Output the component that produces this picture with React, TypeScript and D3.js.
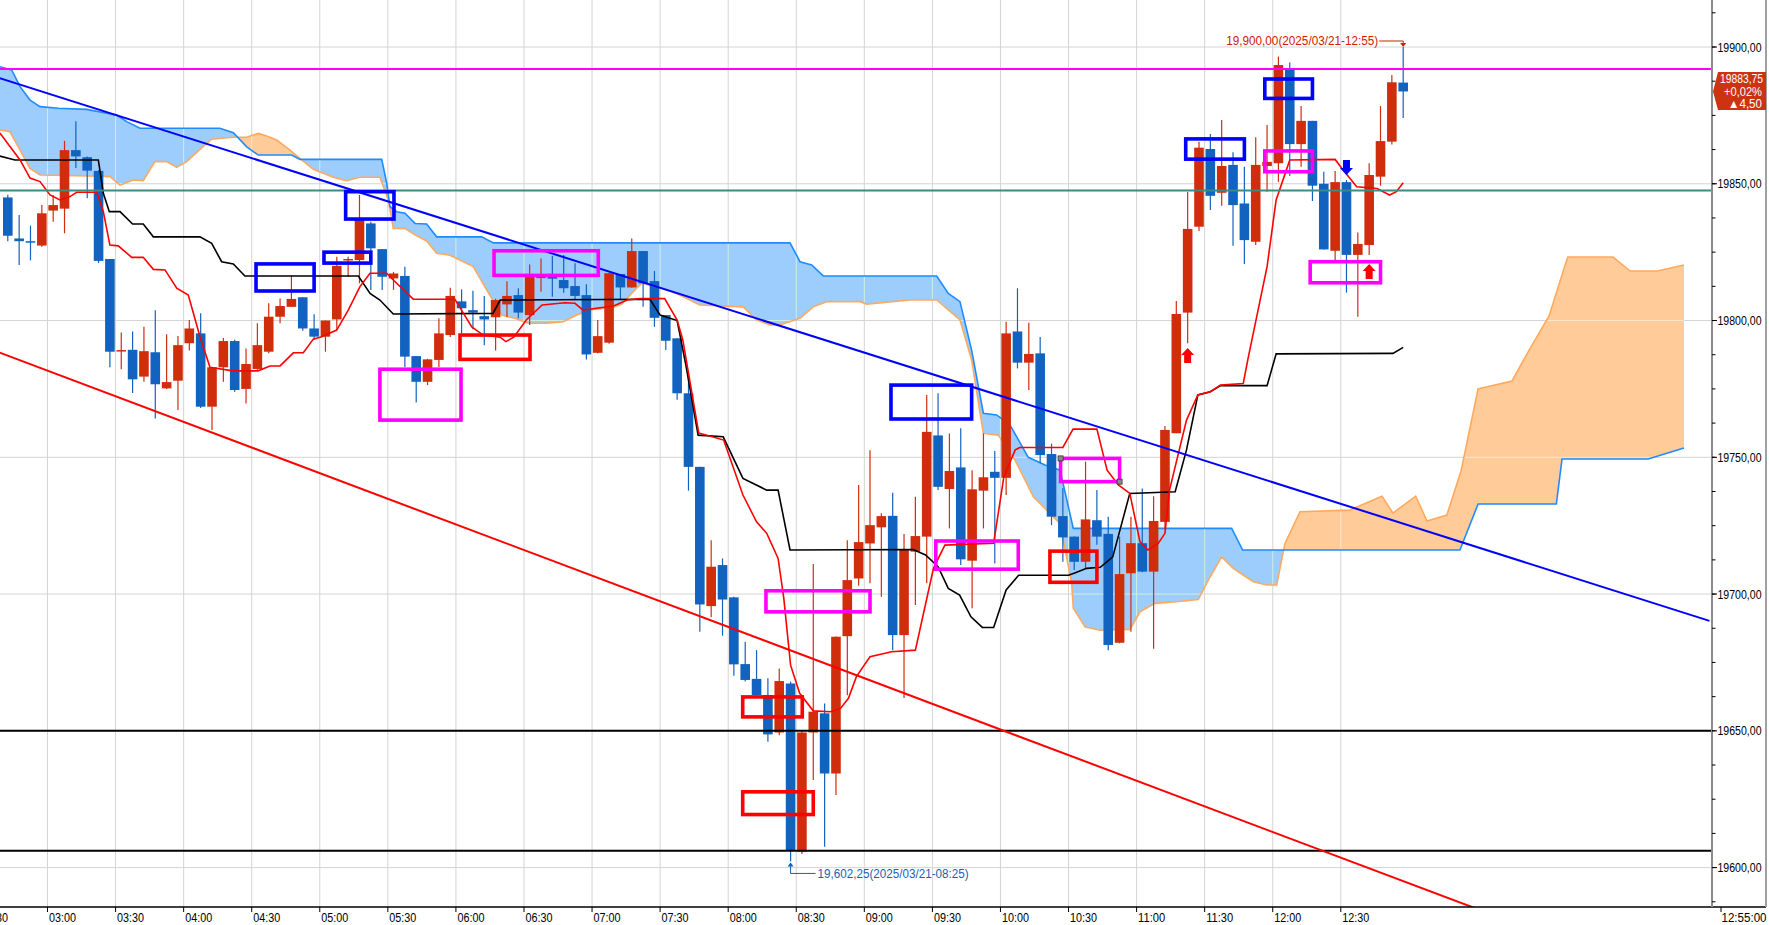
import * as d3 from "d3"

// ---- data (5-minute bars, 2025/03/21) ----
// [time, open, high, low, close]
const candles: [string, number, number, number, number][] = [
  ["02:40", 19845, 19846, 19829, 19831],
  ["02:45", 19830, 19838.6, 19820.3, 19829],
  ["02:50", 19829, 19834.7, 19822, 19828.5],
  ["02:55", 19827.4, 19842.2, 19827, 19839.2],
  ["03:00", 19840.2, 19845.9, 19836.1, 19842.2],
  ["03:05", 19840.9, 19865.7, 19831.9, 19862.3],
  ["03:10", 19862.3, 19872.9, 19855.8, 19860],
  ["03:15", 19859.7, 19860, 19844.7, 19854.8],
  ["03:20", 19854.7, 19855, 19821, 19821.8],
  ["03:25", 19822.5, 19822.5, 19782.9, 19788.6],
  ["03:30", 19788.8, 19795.6, 19782.2, 19789.2],
  ["03:35", 19789.3, 19796, 19773.5, 19778.5],
  ["03:40", 19779.5, 19797.7, 19777.6, 19788.8],
  ["03:45", 19788.4, 19803.8, 19764.2, 19776.7],
  ["03:50", 19775.2, 19795, 19775, 19777.5],
  ["03:55", 19778, 19794.3, 19767.3, 19791],
  ["04:00", 19791.7, 19800.2, 19789, 19797.1],
  ["04:05", 19795.3, 19802.7, 19768, 19768.5],
  ["04:10", 19768.5, 19783, 19760, 19782.9],
  ["04:15", 19782.9, 19793.6, 19777.6, 19792.5],
  ["04:20", 19792.5, 19793, 19774, 19774.6],
  ["04:25", 19775, 19789.8, 19769.7, 19784.1],
  ["04:30", 19782.3, 19799, 19782, 19791],
  ["04:35", 19788.6, 19806.3, 19788, 19801.4],
  ["04:40", 19801.4, 19808.1, 19799, 19805.3],
  ["04:45", 19805, 19816.6, 19805, 19807.9],
  ["04:50", 19808.5, 19808.5, 19796.3, 19797.1],
  ["04:55", 19797.1, 19802.3, 19793, 19794.1],
  ["05:00", 19794.1, 19800, 19788.6, 19800],
  ["05:05", 19800.4, 19823.3, 19796.5, 19820],
  ["05:10", 19822, 19823.3, 19816, 19822.5],
  ["05:15", 19822.1, 19845.9, 19813.6, 19837],
  ["05:20", 19835.5, 19836.1, 19811.2, 19826.4],
  ["05:25", 19826.1, 19826.1, 19811.2, 19816],
  ["05:30", 19815.4, 19817.8, 19811.2, 19817.2],
  ["05:35", 19816.3, 19819.7, 19783, 19786.8],
  ["05:40", 19787, 19787, 19770, 19777.6],
  ["05:45", 19777.6, 19786, 19776.4, 19785.8],
  ["05:50", 19785.6, 19800.8, 19783, 19795.3],
  ["05:55", 19794.7, 19812, 19794, 19809],
  ["06:00", 19807, 19811.4, 19795.3, 19804.5],
  ["06:05", 19803.8, 19810.9, 19796.8, 19802.9],
  ["06:10", 19801.6, 19809, 19791, 19800.4],
  ["06:15", 19801.2, 19808, 19789, 19807.5],
  ["06:20", 19805.9, 19814.4, 19801.2, 19809],
  ["06:25", 19809.3, 19811.8, 19800.8, 19802.9],
  ["06:30", 19802, 19820.5, 19798.4, 19816],
  ["06:35", 19815.5, 19822.7, 19810.5, 19817],
  ["06:40", 19816.3, 19823.6, 19808.7, 19815.3],
  ["06:45", 19814.8, 19824, 19810.2, 19811.8],
  ["06:50", 19812.6, 19820.9, 19807.5, 19809],
  ["06:55", 19809.3, 19813.3, 19785.8, 19787.6],
  ["07:00", 19788.2, 19800.2, 19788, 19794.3],
  ["07:05", 19791.9, 19817.5, 19791.5, 19817.3],
  ["07:10", 19817, 19817, 19807.5, 19812.1],
  ["07:15", 19812.1, 19830, 19812, 19825.4],
  ["07:20", 19825.4, 19825.4, 19805, 19813.6],
  ["07:25", 19814.4, 19818.1, 19797.7, 19801],
  ["07:30", 19802, 19802, 19789.2, 19792.6],
  ["07:35", 19793.5, 19793.5, 19771, 19773.4],
  ["07:40", 19773.4, 19780.7, 19737.8, 19746.5],
  ["07:45", 19746.5, 19746.5, 19686.2, 19696.2],
  ["07:50", 19695.6, 19719.7, 19691.5, 19710],
  ["07:55", 19710.6, 19713, 19684.8, 19698],
  ["08:00", 19698.8, 19699, 19670.1, 19674.3],
  ["08:05", 19674.4, 19682.6, 19668, 19668.6],
  ["08:10", 19669, 19679.5, 19662, 19663.1],
  ["08:15", 19663.1, 19669.2, 19646, 19648.7],
  ["08:20", 19649.4, 19672.8, 19648.4, 19668.2],
  ["08:25", 19667.3, 19668, 19602.25, 19606.4],
  ["08:30", 19605.8, 19650, 19605, 19649.4],
  ["08:35", 19649.4, 19711, 19632, 19657],
  ["08:40", 19656.4, 19660, 19607.6, 19634.4],
  ["08:45", 19634.4, 19684.5, 19626.5, 19684.4],
  ["08:50", 19684.6, 19719.7, 19663, 19705.1],
  ["08:55", 19705.7, 19739.9, 19703, 19719],
  ["09:00", 19718.5, 19752.6, 19704, 19725.2],
  ["09:05", 19724.4, 19729.5, 19699, 19728.5],
  ["09:10", 19728.6, 19737, 19679.5, 19685],
  ["09:15", 19685, 19722, 19662, 19716.3],
  ["09:20", 19715.5, 19735.6, 19696, 19721.2],
  ["09:25", 19721, 19772.8, 19704, 19759.3],
  ["09:30", 19758, 19773.4, 19738, 19739.2],
  ["09:35", 19738.4, 19758.7, 19724, 19745],
  ["09:40", 19746.3, 19760.6, 19710.6, 19712.7],
  ["09:45", 19712.2, 19745.3, 19694.8, 19738.3],
  ["09:50", 19737.8, 19758.7, 19724, 19742.7],
  ["09:55", 19744.7, 19752.3, 19711.2, 19742.5],
  ["10:00", 19742.5, 19799.6, 19736.2, 19795.3],
  ["10:05", 19796, 19811.8, 19782.5, 19784.6],
  ["10:10", 19784.6, 19799.2, 19774.6, 19787.8],
  ["10:15", 19788, 19794, 19747.8, 19750.8],
  ["10:20", 19751.2, 19755, 19725.2, 19728.3],
  ["10:25", 19728.5, 19738.7, 19711.8, 19720.7],
  ["10:30", 19721, 19721, 19708.8, 19711.8],
  ["10:35", 19711.8, 19748.4, 19709.4, 19727.3],
  ["10:40", 19727, 19738, 19718, 19721],
  ["10:45", 19722, 19728.3, 19679.5, 19681.4],
  ["10:50", 19682.2, 19721, 19682, 19707.3],
  ["10:55", 19707.6, 19728.3, 19686.2, 19718.6],
  ["11:00", 19718.6, 19738.6, 19708, 19708.2],
  ["11:05", 19708.2, 19735.8, 19680, 19726.7],
  ["11:10", 19726.4, 19761.4, 19723.4, 19760],
  ["11:15", 19758.8, 19807.1, 19758.8, 19802.4],
  ["11:20", 19802.9, 19847, 19791.7, 19833.5],
  ["11:25", 19834.3, 19865.4, 19832.7, 19863.2],
  ["11:30", 19862.7, 19868.2, 19840.4, 19845.6],
  ["11:35", 19846.7, 19873.3, 19842, 19856.5],
  ["11:40", 19856.9, 19861.5, 19827.3, 19842.2],
  ["11:45", 19842.8, 19856.2, 19820.7, 19829.4],
  ["11:50", 19828.8, 19867, 19827.6, 19856.9],
  ["11:55", 19856.5, 19871.5, 19847.1, 19858],
  ["12:00", 19857.5, 19896.5, 19850.7, 19893.4],
  ["12:05", 19891.8, 19894.3, 19852.8, 19864.5],
  ["12:10", 19864.5, 19878.4, 19856.2, 19873],
  ["12:15", 19873, 19873, 19843.7, 19849.3],
  ["12:20", 19850, 19854.4, 19826, 19826],
  ["12:25", 19825.5, 19854.7, 19821.5, 19850.6],
  ["12:30", 19850.6, 19851.4, 19810.2, 19824],
  ["12:35", 19824, 19832.2, 19801.4, 19828],
  ["12:40", 19827.6, 19857.5, 19824, 19853.2],
  ["12:45", 19852.6, 19878.4, 19849.3, 19865.6],
  ["12:50", 19865.4, 19889.8, 19864.4, 19887.1],
  ["12:55", 19887, 19900, 19874, 19883.75],
]

// Ichimoku lines: [bar index (0 = 02:40), price]
const tenkan: [number, number][] = [
  [-0.7, 19868.6], [1.08, 19858.7], [1.96, 19852.1], [2.84, 19850.8], [3.72, 19845.9],
  [4.6, 19844.1], [5.48, 19845.3], [6.07, 19846.9], [7.84, 19846.9], [8.42, 19839.8],
  [9.0, 19827.6], [9.74, 19827.3], [10.92, 19823.1], [11.94, 19823.1], [12.83, 19818.7],
  [13.86, 19818.5], [14.89, 19811.8], [15.91, 19809.3], [16.94, 19794.1], [17.82, 19782.9],
  [19.85, 19781.6], [22.05, 19781.6], [23.11, 19783.4], [24.0, 19783.4], [25.17, 19788.2],
  [26.05, 19788.2], [26.93, 19793.2], [27.67, 19794.1], [28.99, 19796.5], [30.01, 19803.8],
  [31.04, 19812.4], [31.93, 19817.3], [33.4, 19817.3], [33.98, 19814.8], [35.74, 19807.8],
  [39.4, 19807.8], [40.9, 19797.7], [41.9, 19794.7], [43.4, 19793.9], [43.9, 19792.3],
  [44.6, 19793.9], [45.7, 19800.2], [47.1, 19805.7], [49.1, 19806.5], [50.0, 19806.3],
  [50.7, 19803.8], [53.4, 19805.3], [54.6, 19807.5], [55.7, 19808], [57.9, 19808],
  [59.0, 19800.2], [59.5, 19792.9], [60.9, 19758.9], [63.1, 19756.3], [64.8, 19736.2],
  [66.0, 19726.4], [66.9, 19722.2], [67.9, 19713], [68.4, 19698.5], [69.0, 19674],
  [69.8, 19663.7], [71.0, 19657.3], [72.5, 19657], [73.4, 19658.2], [74.1, 19661.9],
  [74.8, 19669.8], [76.0, 19677.1], [77.9, 19678.9], [80.0, 19679.5], [81.6, 19709.5],
  [82.6, 19717.9], [86.9, 19718.6], [87.8, 19742.9], [88.8, 19752.7], [89.2, 19753.6],
  [93.0, 19753.6], [93.9, 19760.3], [96.0, 19760.3], [96.9, 19745.3], [97.9, 19739.9],
  [98.9, 19736.8], [99.8, 19719.1], [100.5, 19716.1], [101.4, 19718.5], [102.0, 19722.2],
  [102.4, 19738], [103.9, 19763.6], [104.9, 19772.8], [106.0, 19774], [106.9, 19776.4],
  [108.9, 19777], [109.3, 19785.6], [111.0, 19819.7], [111.8, 19844.1], [112.6, 19853.8],
  [113.0, 19858.7], [117.0, 19858.9], [117.6, 19855.6], [118.9, 19848.9], [120.7, 19848.3],
  [121.8, 19845.9], [122.4, 19847.1], [123.0, 19850.4],
]

const kijun: [number, number][] = [
  [-0.7, 19860.1], [0.63, 19858.7], [7.98, 19858.7], [8.42, 19846.5], [8.95, 19839.8],
  [9.89, 19839.8], [11.0, 19835.3], [11.94, 19835.3], [12.83, 19830.6], [16.94, 19830.6],
  [17.97, 19828.2], [18.85, 19821.5], [19.88, 19820.7], [20.9, 19816.3], [30.9, 19816.3],
  [31.93, 19809.9], [32.8, 19807.5], [33.98, 19802.4], [42.77, 19802.6], [43.4, 19807.5],
  [56.6, 19807.8], [57.5, 19802], [59.0, 19800], [59.8, 19783.1], [60.85, 19758.1],
  [63.06, 19757.5], [64.8, 19742.3], [66.9, 19738], [67.9, 19738], [68.95, 19716.1],
  [79.8, 19716.3], [80.9, 19714.3], [82.0, 19710], [82.9, 19702.1], [83.9, 19699.6],
  [84.9, 19691.7], [85.9, 19687.8], [86.9, 19687.8], [88.0, 19701.5], [89.1, 19706.9],
  [93.5, 19706.9], [94.1, 19707.8], [95.1, 19709.4], [96.3, 19709.8], [97.4, 19713.6],
  [98.9, 19736.8], [102.9, 19737.4], [103.9, 19752.7], [104.9, 19772.8], [106.0, 19774],
  [106.9, 19776.2], [111.0, 19776.2], [111.8, 19787.8], [122.1, 19788], [123.0, 19790.2],
]

const spanA: [number, number][] = [
  [-0.7, 19892.8], [0.34, 19891.6], [1.08, 19885.5], [1.96, 19880.6], [2.84, 19878.2],
  [4.45, 19877.6], [6.95, 19877.2], [8.72, 19875.8], [9.6, 19875.1], [10.48, 19872.7],
  [11.65, 19870.3], [18.7, 19870.3], [19.88, 19868.7], [21.06, 19863.5], [22.08, 19860.5],
  [25.02, 19860.5], [25.76, 19858.9], [32.96, 19858.9], [33.4, 19850.2], [33.69, 19841.6],
  [34.28, 19839.8], [35.01, 19839.2], [35.9, 19835.5], [36.92, 19835.3], [37.8, 19830.6],
  [41.77, 19830.6], [42.8, 19828.4], [68.95, 19828.4], [69.83, 19821.5], [70.86, 19820.3],
  [71.88, 19816.3], [81.88, 19816.3], [82.9, 19809.9], [83.93, 19806.9], [84.96, 19789.2],
  [85.99, 19766.1], [87.17, 19765.5], [88.34, 19761.8], [89.95, 19750], [91.42, 19747.2],
  [92.75, 19745.3], [93.92, 19724], [107.88, 19724], [108.85, 19716.1], [128.0, 19716.1],
  [129.6, 19732.9], [136.5, 19732.9], [137.0, 19749.4], [144.6, 19749.4], [147.75, 19753.4],
]

const spanB: [number, number][] = [
  [-0.7, 19869.7], [0.19, 19869], [1.08, 19862.3], [1.96, 19855.6], [2.84, 19853.2],
  [8.13, 19852.8], [9.01, 19852.6], [9.89, 19849.5], [11.06, 19851.4], [11.94, 19851.1],
  [12.97, 19858.1], [14.0, 19858.1], [14.89, 19856], [15.77, 19858.1], [16.94, 19862.6],
  [17.97, 19866.3], [19.88, 19867], [21.06, 19867], [22.08, 19868.4], [22.82, 19867.5],
  [23.7, 19866], [24.87, 19862.3], [25.9, 19858.7], [26.93, 19855.3], [28.69, 19852.4],
  [29.87, 19851.1], [31.04, 19852.4], [32.8, 19852.4], [33.54, 19844.1], [33.98, 19833.7],
  [35.01, 19833.7], [35.89, 19831.3], [36.92, 19829.1], [37.8, 19824.6], [38.98, 19823.9],
  [41.03, 19819.7], [42.21, 19811.2], [43.53, 19802], [44.7, 19800.8], [45.88, 19799],
  [47.5, 19799], [48.96, 19799.6], [50.15, 19802], [51.61, 19804.1], [53.37, 19804.8],
  [54.11, 19806], [55.43, 19811.8], [55.87, 19813.6], [57.2, 19812.4], [58.96, 19809.9],
  [61.01, 19805.7], [64.83, 19805], [66.01, 19800.2], [67.18, 19798.4], [68.06, 19798.4],
  [69.83, 19800.8], [71.0, 19805], [72.18, 19806.9], [75.12, 19806.9], [75.71, 19806],
  [79.52, 19807.5], [81.88, 19807.5], [83.93, 19800.2], [84.96, 19785.6], [85.99, 19758.8],
  [87.31, 19758.1], [88.78, 19749], [90.4, 19735.6], [91.57, 19730.7], [92.75, 19725.8],
  [93.78, 19703.9], [93.92, 19694.8], [94.95, 19688], [96.27, 19686.8], [98.92, 19687.1],
  [99.8, 19693.5], [101.12, 19696.6], [103.03, 19697.2], [104.94, 19698], [105.82, 19705.1],
  [107.0, 19713.6], [108.02, 19709.4], [109.78, 19704.5], [110.96, 19703.3], [111.85, 19703.3],
  [112.58, 19718.5], [113.9, 19730.1], [118.3, 19730.7], [121.13, 19735.8], [122.1, 19729.6],
  [124.1, 19735.8], [125.1, 19726.7], [126.85, 19728.9], [128.1, 19745], [129.6, 19775],
  [132.6, 19777.9], [134.1, 19789.2], [135.85, 19801.6], [137.5, 19823.2], [141.5, 19823.2],
  [143.0, 19818.1], [145.4, 19818.1], [147.75, 19820.3],
]

// drawn trend lines: two anchors [bar index, price]
const trendBlue: [number, number][] = [[-1, 19889.0], [150, 19690.2]]
const trendRed: [number, number][] = [[-1, 19788.7], [150, 19552.9]]

// horizontal levels
const magentaLevel = 19892
const tealLevel = 19847.5
const blackLevels = [19650, 19606.2]

// boxes: [bar index from, bar index to, top price, bottom price]
const blueBoxes: [number, number, number, number][] = [
  [21.88, 27.0, 19820.7, 19810.8],
  [27.87, 32.0, 19825.0, 19821.0],
  [29.78, 34.04, 19847.1, 19837.1],
  [77.85, 84.96, 19776.4, 19764.0],
  [103.83, 109.0, 19866.4, 19859.0],
  [110.8, 115.0, 19888.3, 19881.2],
]
const magentaBoxes: [number, number, number, number][] = [
  [32.8, 39.95, 19782.2, 19763.6],
  [42.86, 52.05, 19825.5, 19816.5],
  [66.83, 76.0, 19701.2, 19693.5],
  [81.8, 89.07, 19719.4, 19709.1],
  [92.8, 98.0, 19749.6, 19741.1],
  [110.8, 115.0, 19862.0, 19854.4],
  [114.8, 121.0, 19821.5, 19813.8],
]
const selectedBox = 4
const redBoxes: [number, number, number, number][] = [
  [39.86, 46.03, 19794.7, 19785.8],
  [64.78, 70.03, 19662.4, 19655.1],
  [64.78, 71.0, 19627.7, 19619.4],
  [91.86, 96.0, 19715.7, 19704.3],
]

// signal arrows: [time, tip price]
const upArrows: [string, number][] = [["11:20", 19790], ["12:40", 19820.7]]
const downArrows: [string, number][] = [["12:30", 19853.2]]

const priceTicks = [19600, 19650, 19700, 19750, 19800, 19850, 19900]
const timeTicks = [
  "02:30", "03:00", "03:30", "04:00", "04:30", "05:00", "05:30", "06:00", "06:30", "07:00",
  "07:30", "08:00", "08:30", "09:00", "09:30", "10:00", "10:30", "11:00", "11:30", "12:00", "12:30",
]

const tradeDate = "2025/03/21"
const highMark = { time: "12:55", price: 19900 }
const lowMark = { time: "08:25", price: 19602.25 }
const lastPrice = 19883.75
const changePct = 0.02
const change = 4.5

// ---- layout ----
const W = 1769
const H = 925
const plotR = 1712
const axisY = 907
const FONT = "'Liberation Sans', Arial, sans-serif"

const RED = "#d02d0c"
const BLUE = "#1262c0"
const GRID = "#d4d4d4"

const idx = (t: string) => {
  const [h, m] = t.split(":").map(Number)
  return (h * 60 + m - 160) / 5
}

export default function App() {
  const x = d3.scaleLinear().domain([0, 123]).range([7.8, 1403.2])
  const y = d3.scaleLinear().domain([19600, 19900]).range([867.6, 47])
  const slot = x(1) - x(0)
  const bodyW = 9.6

  const line = d3
    .line<[number, number]>()
    .x((d) => x(d[0]))
    .y((d) => y(d[1]))

  const areaTop = (s: [number, number][]) =>
    d3
      .area<[number, number]>()
      .x((d) => x(d[0]))
      .y0(0)
      .y1((d) => y(d[1]))(s) as string
  const areaBottom = (s: [number, number][]) =>
    d3
      .area<[number, number]>()
      .x((d) => x(d[0]))
      .y0(axisY)
      .y1((d) => y(d[1]))(s) as string

  const minorTicks = d3.range(19587.5, 19925, 12.5)
  const fmt2 = d3.format(".2f")
  const fmtC = d3.format(",.2f")
  const axisLabel = (v: number) => fmt2(v).replace(".", ",")
  const annLabel = (v: number) => fmtC(v).replace(".", ",")

  const grid = (color: string, k: string) => (
    <g key={k}>
      {timeTicks.map((t) => (
        <line
          key={t}
          x1={x(idx(t)) - slot / 2}
          x2={x(idx(t)) - slot / 2}
          y1={0}
          y2={axisY}
          stroke={color}
          strokeWidth={1}
        />
      ))}
      {priceTicks.map((v) => (
        <line key={v} x1={0} x2={plotR} y1={y(v)} y2={y(v)} stroke={color} strokeWidth={1} />
      ))}
    </g>
  )

  const box = (b: [number, number, number, number], color: string, k: string) => (
    <rect
      key={k}
      x={x(b[0])}
      y={y(b[2])}
      width={x(b[1]) - x(b[0])}
      height={y(b[3]) - y(b[2])}
      fill="none"
      stroke={color}
      strokeWidth={3.6}
    />
  )

  const arrowPath = (cx: number, ty: number, s: 1 | -1) => {
    // s = 1: tip at top pointing up; s = -1: tip at bottom pointing down
    const p = d3.path()
    p.moveTo(cx, ty)
    p.lineTo(cx + 6.5, ty + 7 * s)
    p.lineTo(cx + 3.5, ty + 7 * s)
    p.lineTo(cx + 3.5, ty + 15 * s)
    p.lineTo(cx - 3.5, ty + 15 * s)
    p.lineTo(cx - 3.5, ty + 7 * s)
    p.lineTo(cx - 6.5, ty + 7 * s)
    p.closePath()
    return p.toString()
  }

  const hx = x(idx(highMark.time))
  const hy = y(highMark.price)
  const lx = x(idx(lowMark.time))
  const ly = y(lowMark.price)
  const ly0 = y(lastPrice)

  return (
    <svg
      width={W}
      height={H}
      style={{ position: "absolute", left: 0, top: 0, background: "#fff", fontFamily: FONT }}
    >
      <defs>
        <clipPath id="plot">
          <rect x={0} y={0} width={plotR} height={axisY} />
        </clipPath>
        <clipPath id="belowA">
          <path d={areaBottom(spanA)} />
        </clipPath>
        <clipPath id="aboveA">
          <path d={areaTop(spanA)} />
        </clipPath>
        <clipPath id="belowB">
          <path d={areaBottom(spanB)} />
        </clipPath>
        <clipPath id="aboveB">
          <path d={areaTop(spanB)} />
        </clipPath>
      </defs>

      <g clipPath="url(#plot)">
        {grid(GRID, "g0")}

        {/* cloud */}
        <g clipPath="url(#belowA)">
          <path d={areaTop(spanB)} fill="#9dcdfc" />
          <g clipPath="url(#aboveB)">{grid("#cdeedf", "g1")}</g>
        </g>
        <g clipPath="url(#aboveA)">
          <path d={areaBottom(spanB)} fill="#ffcc99" />
          <g clipPath="url(#belowB)">{grid("#ffe6cc", "g2")}</g>
        </g>
        <path d={line(spanB)!} fill="none" stroke="#ffa95e" strokeWidth={1.6} />
        <path d={line(spanA)!} fill="none" stroke="#1e8cff" strokeWidth={1.6} />

        {/* candles */}
        {candles.map(([t, o, h, l, c]) => {
          const cx = x(idx(t))
          const col = c >= o ? RED : BLUE
          const top = y(Math.max(o, c))
          const bh = Math.max(1.5, y(Math.min(o, c)) - top)
          return (
            <g key={t}>
              <line x1={cx} x2={cx} y1={y(h)} y2={y(l)} stroke={col} strokeWidth={1.2} />
              <rect x={cx - bodyW / 2} y={top} width={bodyW} height={bh} fill={col} />
            </g>
          )
        })}

        {/* tenkan / kijun */}
        <path d={line(kijun)!} fill="none" stroke="#000" strokeWidth={1.6} />
        <path d={line(tenkan)!} fill="none" stroke="#ff0000" strokeWidth={1.6} />

        {/* horizontal levels */}
        <line x1={0} x2={plotR} y1={y(magentaLevel)} y2={y(magentaLevel)} stroke="#ff00ff" strokeWidth={2} />
        <line x1={0} x2={plotR} y1={y(tealLevel)} y2={y(tealLevel)} stroke="#3b8a84" strokeWidth={2} />
        {blackLevels.map((v) => (
          <line key={v} x1={0} x2={plotR} y1={y(v)} y2={y(v)} stroke="#000" strokeWidth={2} />
        ))}

        {/* trend lines */}
        <path d={line(trendBlue)!} fill="none" stroke="#0000ff" strokeWidth={2} />
        <path d={line(trendRed)!} fill="none" stroke="#ff0000" strokeWidth={2} />

        {/* boxes */}
        {blueBoxes.map((b, i) => box(b, "#0000ff", "b" + i))}
        {magentaBoxes.map((b, i) => box(b, "#ff00ff", "m" + i))}
        {redBoxes.map((b, i) => box(b, "#ff0000", "r" + i))}
        {[
          [magentaBoxes[selectedBox][0], magentaBoxes[selectedBox][2]],
          [magentaBoxes[selectedBox][1], magentaBoxes[selectedBox][3]],
        ].map(([i, p], k) => (
          <rect
            key={"h" + k}
            x={x(i) - 2.5}
            y={y(p) - 2.5}
            width={5}
            height={5}
            fill="#8a8a8a"
            stroke="#333"
            strokeWidth={0.8}
          />
        ))}

        {/* signal arrows */}
        {upArrows.map(([t, p]) => (
          <path key={"u" + t} d={arrowPath(x(idx(t)), y(p), 1)} fill="#ff0000" />
        ))}
        {downArrows.map(([t, p]) => (
          <path key={"d" + t} d={arrowPath(x(idx(t)), y(p), -1)} fill="#0000ff" />
        ))}

        {/* high / low markers */}
        <path d={`M${hx - 24},${hy - 6}H${hx}V${hy - 1}`} stroke="#cc2200" fill="none" strokeWidth={1} />
        <path d={`M${hx - 3},${hy - 4}L${hx + 3},${hy - 4}L${hx},${hy}Z`} fill="#cc2200" />
        <text
          x={hx - 25}
          y={hy - 2}
          fontSize={12.5}
          fill="#cc2200"
          textAnchor="end"
          textLength={152}
          lengthAdjust="spacingAndGlyphs"
        >
          {`${annLabel(highMark.price)}(${tradeDate}-${highMark.time})`}
        </text>

        <path d={`M${lx},${ly + 2}V${ly + 12}H${lx + 25}`} stroke="#1a5fb4" fill="none" strokeWidth={1} />
        <path d={`M${lx - 3},${ly + 5}L${lx + 3},${ly + 5}L${lx},${ly + 1}Z`} fill="#1a5fb4" />
        <text
          x={lx + 27}
          y={ly + 17}
          fontSize={12.5}
          fill="#1a5fb4"
          textLength={151}
          lengthAdjust="spacingAndGlyphs"
        >
          {`${annLabel(lowMark.price)}(${tradeDate}-${lowMark.time})`}
        </text>
      </g>

      {/* time axis */}
      <line x1={0} x2={W - 3} y1={axisY} y2={axisY} stroke="#000" strokeWidth={1.5} />
      {timeTicks.map((t) => {
        const tx = x(idx(t)) - slot / 2
        return (
          <g key={"t" + t}>
            <line x1={tx} x2={tx} y1={axisY} y2={axisY + 5} stroke="#000" strokeWidth={1} />
            <text
              x={tx + 1.5}
              y={axisY + 15}
              fontSize={12.5}
              fill="#000"
              textLength={27}
              lengthAdjust="spacingAndGlyphs"
            >
              {t}
            </text>
          </g>
        )
      })}
      <line x1={plotR + 9} x2={plotR + 9} y1={axisY} y2={axisY + 5} stroke="#000" strokeWidth={1} />
      <text
        x={plotR + 9.5}
        y={axisY + 15}
        fontSize={12.5}
        fill="#000"
        textLength={45}
        lengthAdjust="spacingAndGlyphs"
      >
        {`${highMark.time}:00`}
      </text>

      {/* price axis */}
      <line x1={plotR} x2={plotR} y1={0} y2={axisY} stroke="#8c8c8c" strokeWidth={2} />
      <line x1={W - 3} x2={W - 3} y1={0} y2={axisY} stroke="#a0a0a0" strokeWidth={2} />
      {minorTicks.map((v) => (
        <line key={"mt" + v} x1={plotR} x2={plotR + 3.5} y1={y(v)} y2={y(v)} stroke="#000" strokeWidth={1} />
      ))}
      {priceTicks.map((v) => (
        <g key={"p" + v}>
          <line x1={plotR} x2={plotR + 5} y1={y(v)} y2={y(v)} stroke="#000" strokeWidth={1} />
          <text
            x={plotR + 5.5}
            y={y(v) + 4.5}
            fontSize={12.5}
            fill="#000"
            textLength={44}
            lengthAdjust="spacingAndGlyphs"
          >
            {axisLabel(v)}
          </text>
        </g>
      ))}

      {/* last price tag */}
      <path
        d={`M${plotR + 1},${ly0}L${plotR + 6},${ly0 - 19.5}H${W - 3}V${ly0 + 18.5}H${plotR + 6}Z`}
        fill="#cc3311"
      />
      <g fill="#fff" fontSize={12} textAnchor="end">
        <text x={W - 6} y={ly0 - 8} textLength={43} lengthAdjust="spacingAndGlyphs">
          {axisLabel(lastPrice)}
        </text>
        <text x={W - 7} y={ly0 + 4.5} textLength={38} lengthAdjust="spacingAndGlyphs">
          {`+${axisLabel(changePct)}%`}
        </text>
        <text x={W - 7} y={ly0 + 17} textLength={34} lengthAdjust="spacingAndGlyphs">
          {`▲${axisLabel(change)}`}
        </text>
      </g>
    </svg>
  )
}
